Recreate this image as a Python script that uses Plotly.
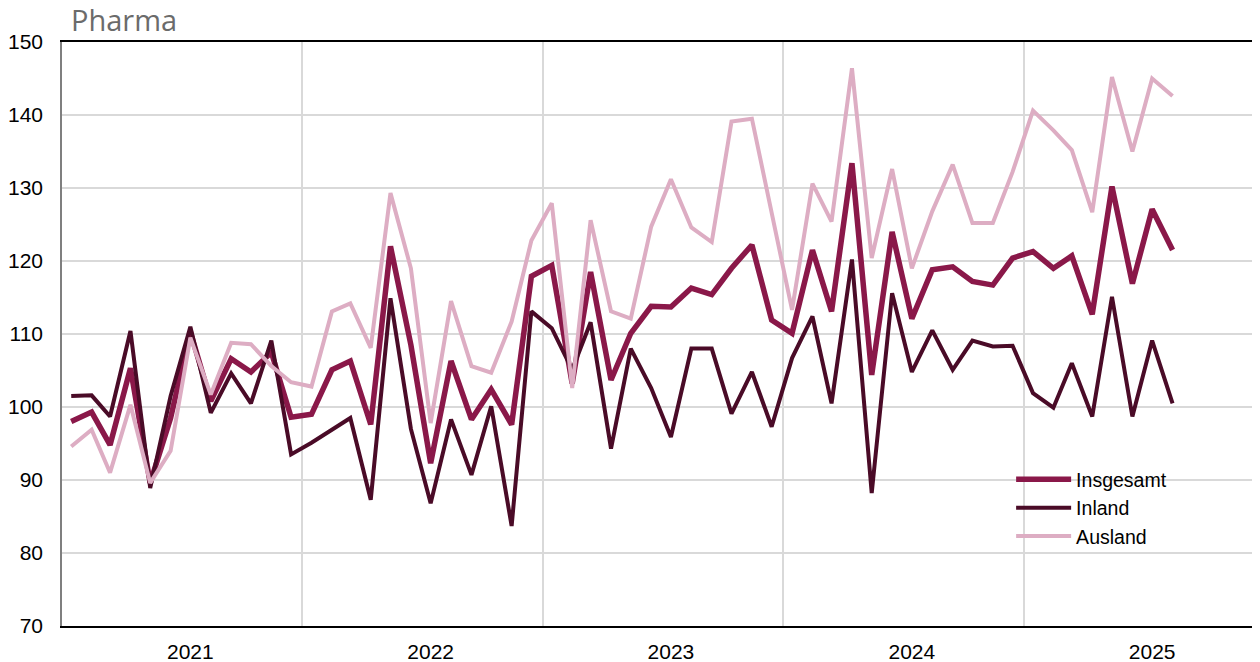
import pandas as pd
import plotly.graph_objects as go

months = pd.date_range("2021-01-01", periods=56, freq="MS") + pd.Timedelta(days=14)
months = [d.strftime("%Y-%m-%d") for d in months]

insgesamt = [98.0, 99.3, 94.8, 105.3, 89.6, 98.5, 110.3, 100.8, 106.6, 104.8, 107.5, 98.6,
             99.0, 105.1, 106.3, 97.6, 122.0, 108.5, 92.3, 106.3, 98.3, 102.4, 97.6, 117.9,
             119.4, 103.2, 118.5, 103.7, 110.1, 113.8, 113.7, 116.3, 115.4, 119.0, 122.2, 111.9,
             110.1, 121.5, 113.1, 133.4, 104.4, 124.0, 112.1, 118.8, 119.2, 117.2, 116.7, 120.4,
             121.3, 119.0, 120.7, 112.7, 130.2, 116.9, 127.1, 121.5]
inland = [101.5, 101.6, 98.7, 110.4, 88.9, 101.5, 111.0, 99.2, 104.6, 100.5, 109.1, 93.5,
          95.1, 96.9, 98.5, 87.3, 114.9, 97.0, 86.8, 98.3, 90.7, 100.1, 83.7, 113.1,
          110.8, 105.1, 111.6, 94.3, 108.0, 102.6, 95.9, 108.0, 108.0, 99.1, 104.8, 97.3,
          106.7, 112.4, 100.5, 120.2, 88.2, 115.6, 104.8, 110.5, 105.1, 109.1, 108.3, 108.4,
          101.9, 99.9, 106.0, 98.7, 115.1, 98.7, 109.1, 100.5]
ausland = [94.6, 96.9, 91.0, 100.3, 89.6, 94.0, 109.5, 101.7, 108.8, 108.6, 105.6, 103.4,
           102.8, 113.1, 114.2, 108.1, 129.3, 119.0, 97.8, 114.5, 105.6, 104.7, 111.7, 122.8,
           127.9, 102.6, 125.6, 113.1, 112.1, 124.7, 131.2, 124.6, 122.6, 139.1, 139.5, 126.5,
           113.3, 130.6, 125.4, 146.4, 120.4, 132.6, 119.0, 126.8, 133.2, 125.2, 125.2, 132.2,
           140.6, 137.9, 135.2, 126.7, 145.2, 135.0, 145.0, 142.6]

year_ticks = ["2021-07-15", "2022-07-15", "2023-07-15", "2024-07-15", "2025-07-15"]
year_labels = ["2021", "2022", "2023", "2024", "2025"]

fig = go.Figure()
fig.add_trace(go.Scatter(x=months, y=insgesamt, name="Insgesamt", mode="lines",
                         line=dict(color="#8A1849", width=5.5)))
fig.add_trace(go.Scatter(x=months, y=inland, name="Inland", mode="lines",
                         line=dict(color="#4A0B27", width=4)))
fig.add_trace(go.Scatter(x=months, y=ausland, name="Ausland", mode="lines",
                         line=dict(color="#DDADC3", width=4)))

# the page body has an 8px margin, so the figure is offset by 8px
fig.update_layout(
    width=1260, height=654,
    margin=dict(l=54, r=0, t=34, b=36),
    paper_bgcolor="white", plot_bgcolor="white",
    font=dict(family="Arial, Liberation Sans", size=21, color="#000000"),
    title=dict(text="Pharma", x=0, xref="paper", xanchor="left", y=0.98, yref="container",
               yanchor="middle", pad=dict(l=9),
               font=dict(family="Open Sans", size=29, color="#6b6b6b")),
    showlegend=True,
    legend=dict(x=0.787, y=0.284, xanchor="left", yanchor="top",
                bgcolor="rgba(0,0,0,0)", font=dict(size=19.5), tracegroupgap=0,
                itemwidth=55),
    xaxis=dict(type="date", range=["2021-01-01", "2026-01-07"], automargin=False,
               tickvals=year_ticks, ticktext=year_labels, ticks="",
               showgrid=False, showline=True, linecolor="#000000", linewidth=1.5,
               mirror=True, zeroline=False, ticklabelstandoff=6,
               minor=dict(tick0="2021-01-01", dtick="M12", showgrid=True,
                          gridcolor="#d9d9d9", gridwidth=2, ticks="")),
    yaxis=dict(range=[70, 150], dtick=10, tick0=70, showgrid=True, gridcolor="#d9d9d9",
               gridwidth=2, showline=True, linecolor="#7f7f7f", linewidth=1.5,
               zeroline=False, ticks="", ticklabelstandoff=13, automargin=False),
)

fig.write_html("out.html")
